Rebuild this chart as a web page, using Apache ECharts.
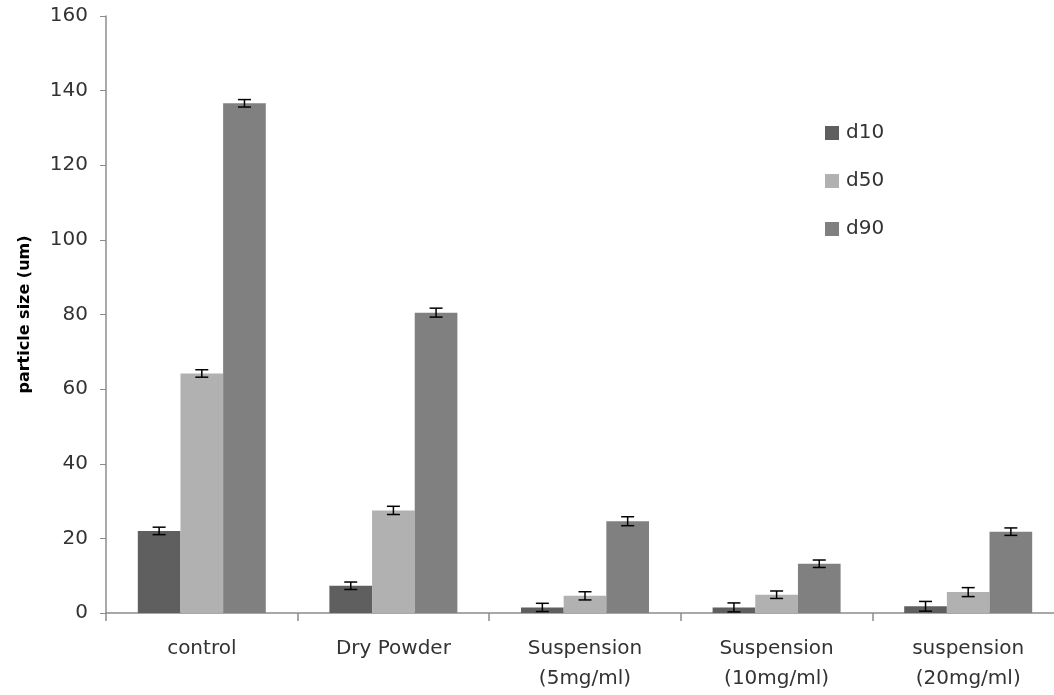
<!DOCTYPE html>
<html>
<head>
<meta charset="utf-8">
<script src="https://cdn.jsdelivr.net/npm/echarts@6/dist/echarts.min.js"></script>
<style>
html,body{margin:0;padding:0;background:#fff;}
#chart{width:1054px;height:695px;}
</style>
</head>
<body>
<div id="chart"></div>
<script>
const categories = ['control', 'Dry Powder', 'Suspension\n(5mg/ml)', 'Suspension\n(10mg/ml)', 'suspension\n(20mg/ml)'];
const seriesNames = ['d10', 'd50', 'd90'];
const d10 = [22, 7.3, 1.5, 1.5, 1.8];
const d50 = [64.2, 27.5, 4.6, 4.9, 5.6];
const d90 = [136.6, 80.5, 24.6, 13.2, 21.8];
const d10Err = [1.0, 1.0, 1.1, 1.2, 1.3];
const d50Err = [1.0, 1.1, 1.1, 1.0, 1.2];
const d90Err = [1.0, 1.2, 1.2, 1.0, 1.0];
const colors = ['#5f5f5f', '#b1b1b1', '#808080'];

const values = [d10, d50, d90];
const errs = [d10Err, d50Err, d90Err];
const catGap = 0.332;

const chart = echarts.init(document.getElementById('chart'));
const font = 'DejaVu Sans';

const barSeries = seriesNames.map((name, i) => ({
  name: name,
  type: 'bar',
  data: values[i],
  barGap: '0%',
  barCategoryGap: (catGap * 100) + '%',
  itemStyle: { color: colors[i] },
  emphasis: { disabled: true }
}));

const errSeries = seriesNames.map((name, i) => ({
  name: name + ' err',
  type: 'custom',
  z: 10,
  silent: true,
  encode: { x: 0, y: 1 },
  data: values[i].map((v, k) => [k, v, errs[i][k]]),
  renderItem: function (params, api) {
    const x = api.value(0), v = api.value(1), e = api.value(2);
    const band = api.size([1, 0])[0];
    const bw = band * (1 - catGap) / 3;
    const c = api.coord([x, v]);
    const cx = c[0] + (i - 1) * bw;
    const hi = api.coord([x, v + e])[1];
    const lo = api.coord([x, Math.max(0, v - e)])[1];
    const cap = 6.5;
    const st = { stroke: '#000', lineWidth: 1.5 };
    return {
      type: 'group',
      children: [
        { type: 'line', shape: { x1: cx, y1: hi, x2: cx, y2: lo }, style: st },
        { type: 'line', shape: { x1: cx - cap, y1: hi, x2: cx + cap, y2: hi }, style: st },
        { type: 'line', shape: { x1: cx - cap, y1: lo, x2: cx + cap, y2: lo }, style: st }
      ]
    };
  }
}));

chart.setOption({
  animation: false,
  backgroundColor: '#fff',
  grid: { left: 106, width: 958, top: 16, bottom: 82, containLabel: false, outerBoundsMode: 'none' },
  legend: {
    data: seriesNames,
    orient: 'vertical',
    left: 820,
    top: 118,
    itemWidth: 14,
    itemHeight: 14,
    itemGap: 28,
    icon: 'rect',
    textStyle: { fontFamily: font, fontSize: 20, color: '#333', padding: [0, 0, 0, 2] }
  },
  xAxis: {
    type: 'category',
    data: categories,
    axisLine: { lineStyle: { color: '#8c8c8c', width: 1.5 } },
    axisTick: { show: true, interval: 0, length: 8, lineStyle: { color: '#8c8c8c', width: 1.5 } },
    axisLabel: { interval: 0, fontFamily: font, fontSize: 20, color: '#333', margin: 21, lineHeight: 30 }
  },
  yAxis: {
    type: 'value',
    min: 0,
    max: 160,
    interval: 20,
    name: 'particle size (um)',
    nameLocation: 'middle',
    nameGap: 73,
    nameTextStyle: { fontFamily: font, fontSize: 16, fontWeight: 'bold', color: '#000' },
    axisLine: { show: true, lineStyle: { color: '#8c8c8c', width: 1.5 } },
    axisTick: { show: true, length: 6, lineStyle: { color: '#8c8c8c', width: 1 } },
    axisLabel: { fontFamily: font, fontSize: 20, color: '#333', margin: 18 },
    splitLine: { show: false }
  },
  series: barSeries.concat(errSeries)
});
</script>
</body>
</html>
